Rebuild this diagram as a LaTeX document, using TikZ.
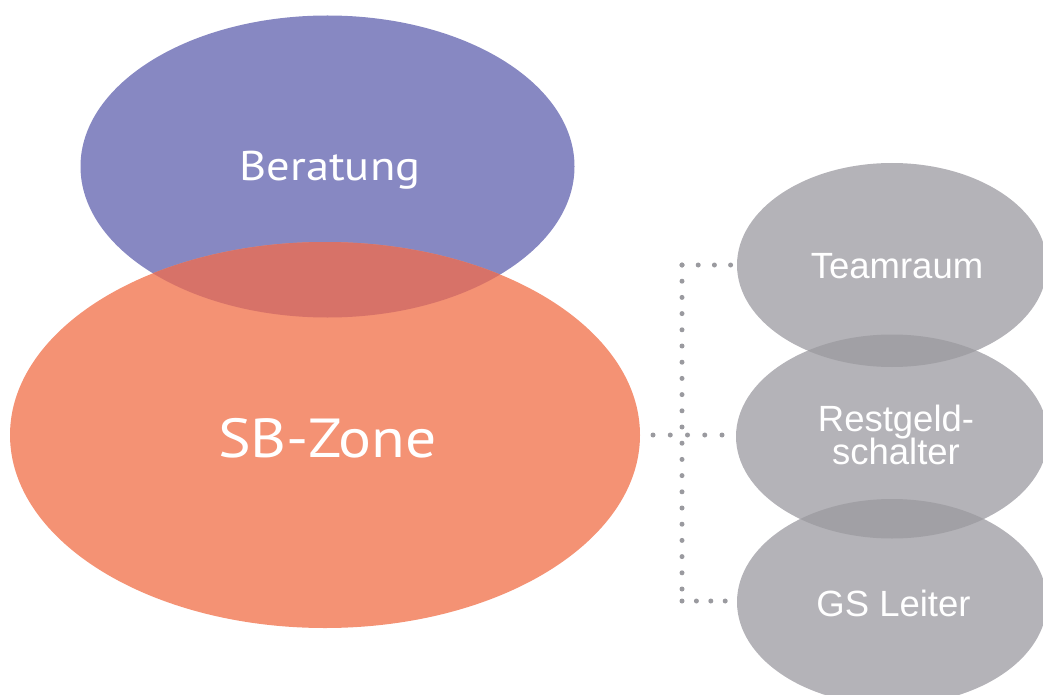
\documentclass[tikz,border=0pt]{standalone}
\usepackage{fontspec}
\setmainfont{PT Sans}[FakeStretch=1.12]
\newfontfamily\helv{Liberation Sans}
\usetikzlibrary{shapes.geometric}

\definecolor{berblue}{HTML}{8788C2}
\definecolor{sborange}{HTML}{F49274}
\definecolor{mixred}{HTML}{D77268}
\definecolor{zonegray}{HTML}{B4B3B8}
\definecolor{zonegraydark}{HTML}{A1A0A5}
\definecolor{dotgray}{HTML}{9A9A9F}

\tikzset{
  zone/.style={ellipse, inner sep=0pt, outer sep=0pt},
  bigtext/.style={text=white, inner sep=0pt, text depth=0pt},
  sidetext/.style={text=white, inner sep=0pt,
    font=\helv\fontsize{36.5}{33}\selectfont},
  dots/.style={dotgray, line width=5pt, line cap=round, dash pattern=on 0pt off #1},
}

\begin{document}
% keep the fixed baseline distance in two-line labels
\lineskiplimit=-60pt
\begin{tikzpicture}[x=1pt,y=-1pt]
  \useasboundingbox (0,0) rectangle (1043,695);

  % main zones
  \node[zone, fill=berblue, minimum width=494pt, minimum height=302pt] (ber) at (327.5,166.5) {};
  \node[zone, fill=sborange, minimum width=630pt, minimum height=386pt] (sb) at (325,435) {};
  \begin{scope}
    \clip (ber.center) ellipse [x radius=247pt, y radius=151pt];
    \fill[mixred] (sb.center) ellipse [x radius=315pt, y radius=193pt];
  \end{scope}

  % side zones
  \node[zone, fill=zonegray, minimum width=310pt, minimum height=204pt] (team) at (892,265) {};
  \node[zone, fill=zonegray, minimum width=312pt, minimum height=204pt] (rest) at (892,436.5) {};
  \node[zone, fill=zonegray, minimum width=310pt, minimum height=206pt] (gs) at (892,602) {};
  \begin{scope}
    \clip (team.center) ellipse [x radius=155pt, y radius=102pt];
    \fill[zonegraydark] (rest.center) ellipse [x radius=156pt, y radius=102pt];
  \end{scope}
  \begin{scope}
    \clip (rest.center) ellipse [x radius=156pt, y radius=102pt];
    \fill[zonegraydark] (gs.center) ellipse [x radius=155pt, y radius=103pt];
  \end{scope}

  % labels
  \node[bigtext, font=\fontsize{41.5}{48}\selectfont, text height=29pt, xshift=2.5pt]
    (berlabel) at (ber.center) {Beratung};
  \node[bigtext, font=\fontsize{55}{62}\selectfont, text height=38.5pt, xshift=2.5pt, yshift=-3.5pt]
    (sblabel) at (sb.center) {SB-Zone};
  \node[sidetext, text height=26pt, text depth=0pt, xshift=5pt, yshift=-0.8pt]
    (teamlabel) at (team.center) {Teamraum};
  \node[sidetext, align=center, xshift=4pt, yshift=1.7pt]
    (restlabel) at (rest.center) {Restgeld-\\schalter};
  \node[sidetext, text height=26pt, text depth=0pt, xshift=1.5pt, yshift=-1pt]
    (gslabel) at (gs.center) {GS Leiter};

  % dotted connectors
  \coordinate (c1) at (682,265);
  \coordinate (c2) at (682,601);
  \draw[dots=16.2pt] (c1) -- (c2);
  \draw[dots=16.2pt, shorten >=6pt] (c1) -- (c1 -| team.west);
  \draw[dots=14.4pt, shorten >=10pt] (c2) -- (c2 -| gs.west);
  \draw[dots=17.25pt, shorten <=13pt, shorten >=13pt] (sb.east) -- (sb.east -| rest.west);
\end{tikzpicture}
\end{document}
